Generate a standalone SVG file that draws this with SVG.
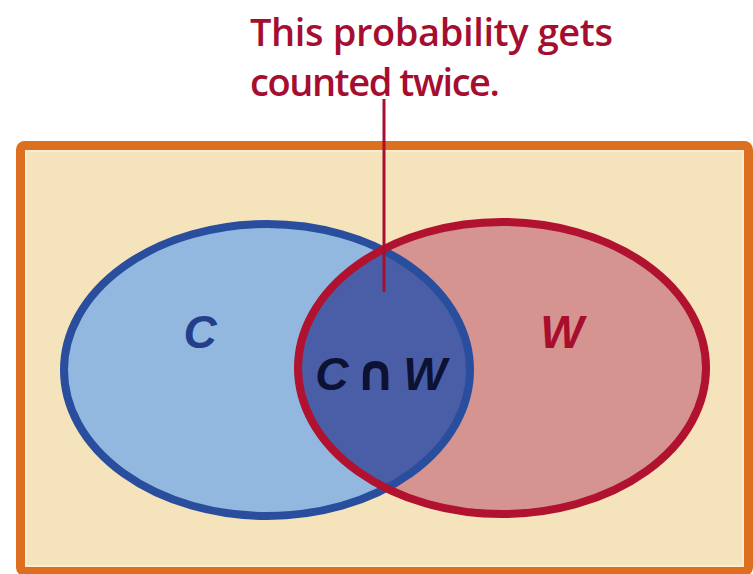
<svg xmlns="http://www.w3.org/2000/svg" width="753" height="574" viewBox="0 0 753 574">
<defs>
<style>
.title{font-family:"Open Sans","Noto Sans",sans-serif;font-size:38px;font-weight:600;fill:#a50e30}
.lbl{font-family:"Liberation Sans",Arial,sans-serif;font-weight:bold;font-style:italic;font-size:46px}
</style>
<clipPath id="clipC"><ellipse cx="267" cy="370" rx="203" ry="146"/></clipPath>
</defs>
<rect width="753" height="574" fill="#ffffff"/>
<g id="frame">
<rect x="20.5" y="145.5" width="728" height="426" rx="4" fill="#f5e3bb" stroke="#dc6f20" stroke-width="9"/>
<rect x="26" y="151" width="717" height="415" fill="none" stroke="#fbf0d6" stroke-width="1.5"/>
</g>
<g id="setC">
<ellipse cx="267" cy="370" rx="203" ry="146" fill="#92b8e0"/>
</g>
<g id="setW">
<ellipse cx="502" cy="368" rx="204" ry="146" fill="#d69490"/>
</g>
<g id="intersection">
<ellipse cx="502" cy="368" rx="204" ry="146" fill="#4a5ea8" clip-path="url(#clipC)"/>
</g>
<g id="outlines">
<ellipse cx="267" cy="370" rx="203" ry="146" fill="none" stroke="#2a4e9e" stroke-width="8"/>
<ellipse cx="502" cy="368" rx="204" ry="146" fill="none" stroke="#b0122f" stroke-width="8"/>
</g>
<g id="connectors">
<line x1="384" y1="99" x2="384" y2="292" stroke="#a80e2e" stroke-width="3"/>
</g>
<g id="callout">
<text class="title" x="250" y="46" textLength="363">This probability gets</text>
<text class="title" x="250" y="96" textLength="250">counted twice.</text>
</g>
<g id="labels">
<text class="lbl" x="200" y="348" text-anchor="middle" fill="#233f8c">C</text>
<text class="lbl" x="562" y="348" text-anchor="middle" fill="#a80e2e">W</text>
<text class="lbl" x="381" y="390" text-anchor="middle" fill="#0d1235">C<tspan font-family="DejaVu Sans,sans-serif" font-style="normal" font-size="50" dx="7">∩</tspan><tspan dx="7">W</tspan></text>
</g>
</svg>
